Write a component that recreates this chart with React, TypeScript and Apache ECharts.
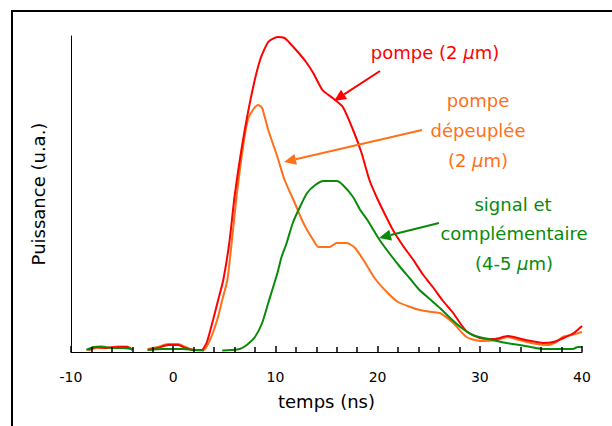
import React, { useEffect, useRef } from "react";
import * as echarts from "echarts";

// Time axis (ns) tick labels
const xTicks = [-10, 0, 10, 20, 30, 40];

// pompe (2 µm) — red
const pompeT = [-8.3, -7.5, -6.5, -5.5, -4.5, -4, null, -2.5, -1.5, -0.5, 0.5, 1.2, 2, 2.8, 3.3, 3.9, 4.4, 4.9, 5.5, 6.0, 6.8, 7.7, 8.5, 9.3, 10.2, 10.9, 11.4, 12.2, 13.0, 13.7, 14.6, 15.6, 16.6, 17.6, 18.4, 19.2, 19.9, 20.7, 21.5, 22.5, 23.5, 24.4, 25.4, 26.4, 27.4, 28.2, 28.8, 30, 31.5, 32.7, 34.5, 36.2, 37.2, 38.2, 39.2, 40];
const pompeV = [2, 5, 4, 5, 5, 2, null, 2, 4, 7, 7, 4, 2, 2, 10, 32, 52, 72, 110, 155, 210, 259, 292, 310, 315, 314, 309, 300, 290, 279, 262, 254, 245, 222, 200, 172, 155, 138, 122, 106, 92, 78, 65, 51, 39, 27, 20, 14, 13, 16, 12, 9, 10, 14, 19, 26];

// pompe dépeuplée (2 µm) — orange
const depT = [-8.3, -7.5, -6.5, -5.5, -4.5, -4, null, -2.5, -1.5, -0.5, 0.5, 1.2, 2, 3.0, 3.6, 4.3, 4.8, 5.3, 5.75, 6.24, 6.83, 7.3, 7.8, 8.3, 8.7, 9.3, 10.2, 10.9, 11.9, 12.6, 13.1, 13.7, 14.2, 15.3, 16.0, 17.0, 17.8, 18.8, 19.7, 20.9, 22.0, 23.2, 24.1, 25.3, 26.1, 27.4, 28.7, 30, 31.7, 32.7, 33.5, 34.6, 35.6, 36.6, 37.5, 38.1, 39, 40];
const depV = [2, 4, 4, 5.5, 5.5, 2, null, 3, 5, 8, 8, 5, 2, 2, 12, 32, 52, 72, 112, 159, 205, 232, 242, 247, 244, 222, 195, 172, 149, 132, 122, 112, 105, 105, 109, 109, 104, 89, 74, 60, 50, 45, 42, 40, 39, 29, 15, 11, 12, 15, 13, 10, 8, 7, 10, 15, 17, 20];

// signal et complémentaire (4-5 µm) — green
const sigT = [-8.5, -7.8, -7, -6, -5, -4, null, -2.5, -1, 0, 1, 2, 3, null, 4.8, 5.6, 6.5, 7.2, 8.0, 8.7, 9.3, 10.2, 10.6, 11.1, 11.7, 12.4, 13.1, 13.9, 14.7, 16.0, 16.6, 17.6, 18.3, 19.0, 20.2, 21.2, 22.2, 23.2, 24.1, 25.1, 26.1, 27.1, 28.1, 29.3, 30.3, 31.3, 32.6, 33.9, 35, 36.2, 38, 39.1, 39.6, 40];
const sigV = [2, 5, 5.5, 4, 4, 3, null, 2, 3, 3, 3, 2, 1.5, null, 1.5, 2, 3, 7, 15, 29, 49, 79, 95, 109, 129, 145, 159, 167, 171, 171, 167, 155, 142, 132, 112, 98, 85, 73, 62, 53, 44, 34, 25, 17, 14, 12, 9, 7, 5, 3, 3, 3, 5, 5];

const RED = "#ff0000";
const ORANGE = "#ff7018";
const GREEN = "#0a8a0a";
const FONT = "DejaVu Sans";

function pairs(t: (number | null)[], v: (number | null)[]) {
  return t.map((x, i) => (x === null || v[i] === null ? [null, null] : [x, v[i]]));
}

function arrow(x1: number, y1: number, x2: number, y2: number, color: string) {
  const dx = x2 - x1, dy = y2 - y1;
  const len = Math.sqrt(dx * dx + dy * dy);
  const ux = dx / len, uy = dy / len;
  const hl = 12, hw = 5.5;
  const bx = x2 - ux * hl, by = y2 - uy * hl;
  return [
    { type: "line", shape: { x1, y1, x2: bx, y2: by }, style: { stroke: color, lineWidth: 2 }, z: 10 },
    {
      type: "polygon",
      shape: { points: [[x2, y2], [bx - uy * hw, by + ux * hw], [bx + uy * hw, by - ux * hw]] },
      style: { fill: color },
      z: 10,
    },
  ];
}

function label(text: string, x: number, y: number, color: string) {
  return {
    type: "text",
    x,
    y,
    z: 10,
    style: {
      text,
      fill: color,
      font: `18px "${FONT}"`,
      textAlign: "center",
      textVerticalAlign: "middle",
      rich: { i: { fontStyle: "italic", fontSize: 18, fontFamily: FONT, fill: color } },
    },
  };
}

export default function App() {
  const ref = useRef<HTMLDivElement>(null);
  useEffect(() => {
    const chart = echarts.init(ref.current!, null, { renderer: "svg" });
    chart.setOption({
      animation: false,
      grid: { left: 71, top: 36, right: 30, bottom: 74 },
      xAxis: {
        type: "value",
        min: xTicks[0],
        max: xTicks[xTicks.length - 1],
        interval: 10,
        name: "temps (ns)",
        nameLocation: "middle",
        nameGap: 40,
        nameTextStyle: { fontFamily: FONT, fontSize: 18, color: "#000" },
        axisLine: { show: true, onZero: false, lineStyle: { color: "#000", width: 1.2 } },
        axisTick: { show: true, inside: true, length: 6, lineStyle: { color: "#000", width: 1.5 } },
        minorTick: { show: true, splitNumber: 5, length: 5, lineStyle: { color: "#000", width: 1.5 } },
        axisLabel: { fontFamily: FONT, fontSize: 14, color: "#000", margin: 18 },
        splitLine: { show: false },
        z: 5,
      },
      yAxis: {
        type: "value",
        min: 0,
        max: 316,
        name: "Puissance (u.a.)",
        nameLocation: "middle",
        nameGap: 24,
        nameTextStyle: { fontFamily: FONT, fontSize: 18, color: "#000" },
        axisLine: { show: true, onZero: false, lineStyle: { color: "#000", width: 1 } },
        axisTick: { show: false },
        axisLabel: { show: false },
        splitLine: { show: false },
      },
      series: [
        { name: "pompe (2 µm)", type: "line", data: pairs(pompeT, pompeV), showSymbol: false, smooth: 0.2, lineStyle: { color: RED, width: 2 }, connectNulls: false, z: 3 },
        { name: "pompe dépeuplée (2 µm)", type: "line", data: pairs(depT, depV), showSymbol: false, smooth: 0.2, lineStyle: { color: ORANGE, width: 2 }, connectNulls: false, z: 2 },
        { name: "signal et complémentaire (4-5 µm)", type: "line", data: pairs(sigT, sigV), showSymbol: false, smooth: 0.2, lineStyle: { color: GREEN, width: 2 }, connectNulls: false, z: 4 },
      ],
      graphic: [
        { type: "rect", shape: { x: 12, y: 11, width: 800, height: 600 }, style: { fill: "none", stroke: "#000", lineWidth: 2 }, silent: true },
        label("pompe (2 {i|µ}m)", 435, 52, RED),
        label("pompe", 478, 100, ORANGE),
        label("dépeuplée", 478, 130, ORANGE),
        label("(2 {i|µ}m)", 478, 160, ORANGE),
        label("signal et", 513, 204, GREEN),
        label("complémentaire", 514, 233, GREEN),
        label("(4-5 {i|µ}m)", 514, 263, GREEN),
        ...arrow(380, 71, 334, 101, RED),
        ...arrow(422, 130, 284, 162, ORANGE),
        ...arrow(439, 223, 379, 238, GREEN),
      ],
    });
    return () => chart.dispose();
  }, []);
  return <div ref={ref} style={{ width: 612, height: 426, position: "absolute", left: 0, top: 0 }} />;
}
